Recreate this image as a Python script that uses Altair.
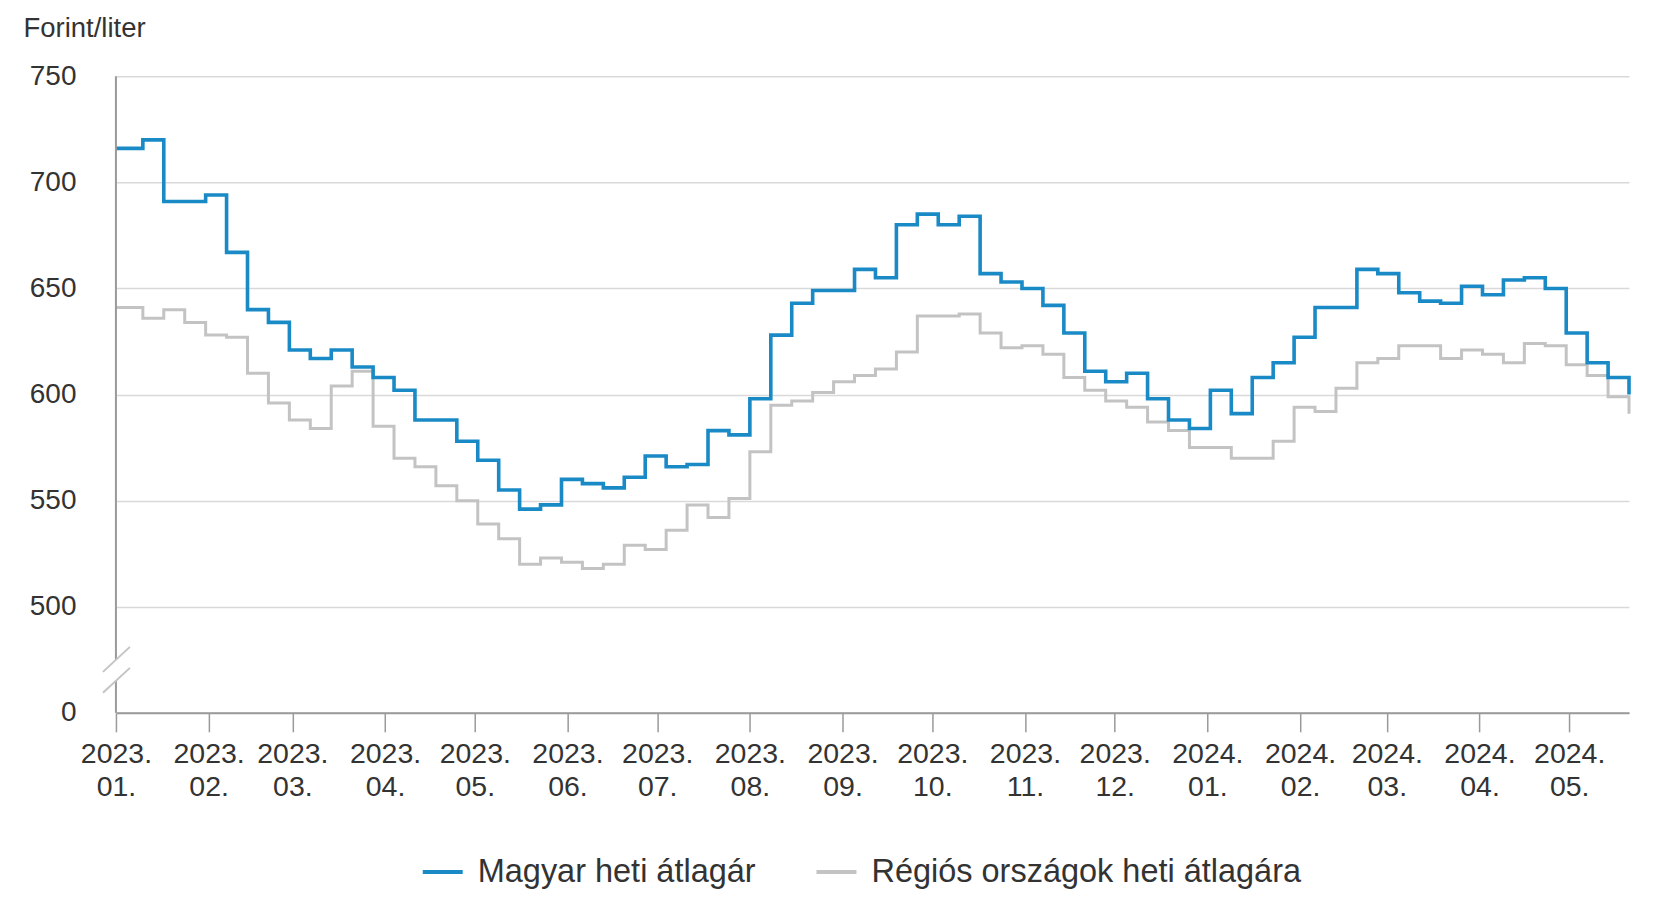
import altair as alt
import pandas as pd

# ---- data (weekly averages, Ft/liter) ----
week_start = pd.date_range("2023-01-03", periods=73, freq="7D")
dates = ["2023-01-01"] + [d.strftime("%Y-%m-%d") for d in week_start[1:]]

hu = [716, 720, 691, 691, 694, 667, 640, 634, 621, 617,
      621, 613, 608, 602, 588, 588, 578, 569, 555, 546,
      548, 560, 558, 556, 561, 571, 566, 567, 583, 581,
      598, 628, 643, 649, 649, 659, 655, 680, 685, 680,
      684, 657, 653, 650, 642, 629, 611, 606, 610, 598,
      588, 584, 602, 591, 608, 615, 627, 641, 641, 659,
      657, 648, 644, 643, 651, 647, 654, 655, 650, 629,
      615, 608, 600]

reg = [641, 636, 640, 634, 628, 627, 610, 596, 588, 584,
       604, 611, 585, 570, 566, 557, 550, 539, 532, 520,
       523, 521, 518, 520, 529, 527, 536, 548, 542, 551,
       573, 595, 597, 601, 606, 609, 612, 620, 637, 637,
       638, 629, 622, 623, 619, 608, 602, 597, 594, 587,
       583, 575, 575, 570, 570, 578, 594, 592, 603, 615,
       617, 623, 623, 617, 621, 619, 615, 624, 623, 614,
       609, 599, 591]

series_names = ["Magyar heti átlagár", "Régiós országok heti átlagára"]
series_colors = ["#1a8ac6", "#c3c3c3"]

y_ticks = [450, 500, 550, 600, 650, 700, 750]
month_ticks = [(2023, m) for m in range(1, 13)] + [(2024, m) for m in range(1, 6)]

df = pd.DataFrame({
    "date": dates * 2,
    "value": hu + reg,
    "series": [series_names[0]] * len(hu) + [series_names[1]] * len(reg),
})

FONT = "Liberation Sans"
TXT = "#333333"

x_scale = alt.Scale(
    type="utc",
    domain=[alt.DateTime(year=2023, month=1, date=1, utc=True),
            alt.DateTime(year=2024, month=5, date=21, utc=True)],
)
y_scale = alt.Scale(domain=[450, 750], nice=False, zero=False)

color = alt.Color(
    "series:N",
    scale=alt.Scale(domain=series_names, range=series_colors),
    legend=alt.Legend(
        title=None, orient="none", direction="horizontal",
        legendX=305, legendY=774,
        symbolType="stroke", symbolSize=1600, symbolStrokeWidth=4,
        labelFontSize=32.5, labelFont=FONT, labelColor=TXT,
        labelOffset=13, columnPadding=52, labelLimit=800,
    ),
)

x_enc = alt.X(
    "date:T", scale=x_scale, title=None,
    axis=alt.Axis(
        values=[alt.DateTime(year=y, month=m, date=1, utc=True) for y, m in month_ticks],
        labelExpr="[utcFormat(datum.value, '%Y.'), utcFormat(datum.value, '%m.')]",
        labelFontSize=28.5, labelFont=FONT, labelColor=TXT, labelLineHeight=33,
        labelPadding=8, tickSize=19, tickColor="#9a9a9a", tickWidth=1.5,
        domainColor="#9a9a9a", domainWidth=2, grid=False, labelFlush=False,
        labelOverlap=False,
    ),
)

y_axis = alt.Axis(
    values=y_ticks,
    labelExpr="datum.value == 450 ? '0' : datum.label",
    labelFontSize=28, labelFont=FONT, labelColor=TXT,
    labelPadding=40, ticks=False, tickSize=0, domain=False,
    grid=True, gridColor="#d9d9d9", gridWidth=1.5,
    title="Forint/liter", titleAngle=0, titleX=-93, titleY=-48,
    titleAlign="left", titleBaseline="middle",
    titleFontSize=27.5, titleFont=FONT, titleColor=TXT, titleFontWeight="normal",
)

y_enc = alt.Y("value:Q", scale=y_scale, axis=y_axis)

base = alt.Chart(df)

gray_line = base.transform_filter(
    alt.datum.series == series_names[1]
).mark_line(interpolate="step-after", strokeWidth=3).encode(
    x=x_enc, y=y_enc, color=color
)
blue_line = base.transform_filter(
    alt.datum.series == series_names[0]
).mark_line(interpolate="step-after", strokeWidth=3.6).encode(
    x=x_enc, y=y_enc, color=color
)

# broken y-axis line (gap between the break marks)
axis_parts = pd.DataFrame({"value": [450, 475], "value2": [465, 750]})
axis_rule = alt.Chart(axis_parts).mark_rule(color="#9a9a9a", strokeWidth=2).encode(
    x=alt.value(0),
    y=alt.Y("value:Q", scale=y_scale, axis=y_axis),
    y2="value2:Q",
)

one = alt.Data(values=[{"k": 1}])
slash1 = alt.Chart(one).mark_rule(color="#c4c4c4", strokeWidth=2).encode(
    x=alt.value(-13), x2=alt.value(14), y=alt.value(596), y2=alt.value(571)
)
slash2 = alt.Chart(one).mark_rule(color="#c4c4c4", strokeWidth=2).encode(
    x=alt.value(-13), x2=alt.value(14), y=alt.value(617), y2=alt.value(592)
)

chart = alt.layer(gray_line, blue_line, axis_rule, slash1, slash2).properties(
    width=1514, height=637,
    autosize=alt.AutoSizeParams(type="none"),
    padding={"left": 108, "top": 68, "right": 20, "bottom": 180},
    background="white",
).configure_view(stroke=None)

chart.save("out.html", embed_options={"renderer": "svg", "actions": False})
